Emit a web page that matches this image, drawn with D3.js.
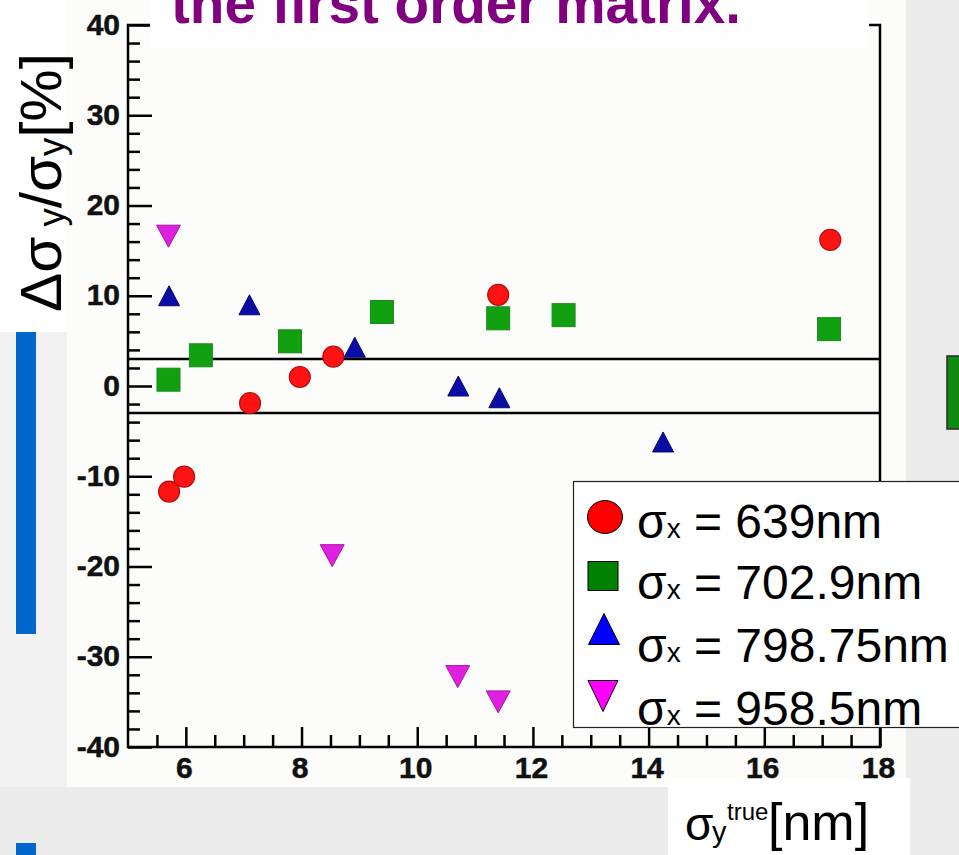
<!DOCTYPE html>
<html><head><meta charset="utf-8">
<script src="https://cdn.jsdelivr.net/npm/d3@7"></script>
<style>html,body{margin:0;padding:0;background:#ececec;overflow:hidden}</style>
</head><body>
<svg id="c" width="959" height="855"></svg>
<script>
// ---------- data ----------
const xTicks = [6, 8, 10, 12, 14, 16, 18];
const yTicks = [-40, -30, -20, -10, 0, 10, 20, 30, 40];
const bandLimits = [-3, 3];
const s639x = [5.71, 5.97, 7.11, 7.97, 8.55, 11.40, 17.14];
const s639y = [-11.7, -10.05, -1.9, 1.0, 3.25, 10.1, 16.2];
const s703x = [5.70, 6.26, 7.80, 9.39, 11.40, 12.53, 17.12];
const s703y = [0.7, 3.4, 4.95, 8.2, 7.5, 7.85, 6.3];
const s799x = [5.71, 7.10, 8.92, 10.71, 11.42, 14.25];
const s799y = [10.0, 9.0, 4.3, 0.0, -1.3, -6.2];
const s959x = [5.70, 8.53, 10.70, 11.40];
const s959y = [16.6, -18.8, -32.2, -35.0];
const seriesLabels = ["639nm", "702.9nm", "798.75nm", "958.5nm"];
const titleText = "the first order matrix.";

// ---------- layout ----------
const FONT = "'Liberation Sans', Arial, Helvetica, sans-serif";
const svg = d3.select("#c");
const x = d3.scaleLinear().domain([5, 18]).range([128, 880]);
const y = d3.scaleLinear().domain([-40, 40]).range([747, 25]);

// background pieces of the slide
svg.append("rect").attr("x", 0).attr("y", 0).attr("width", 959).attr("height", 855).attr("fill", "#ebebeb");
svg.append("rect").attr("x", 0).attr("y", 332).attr("width", 67).attr("height", 455).attr("fill", "#f2f2f2");
svg.append("rect").attr("x", 0).attr("y", 0).attr("width", 67).attr("height", 332).attr("fill", "#ffffff");
svg.append("rect").attr("x", 67).attr("y", 0).attr("width", 839).attr("height", 787).attr("fill", "#fcfcfa");
svg.append("rect").attr("x", 668).attr("y", 778).attr("width", 242).attr("height", 77).attr("fill", "#ffffff");
svg.append("rect").attr("x", 16).attr("y", 332).attr("width", 20).attr("height", 302).attr("fill", "#0066cc");
svg.append("rect").attr("x", 16).attr("y", 843).attr("width", 20).attr("height", 14).attr("fill", "#0066cc");
svg.append("rect").attr("x", 947).attr("y", 356).attr("width", 20).attr("height", 73)
  .attr("fill", "#118a11").attr("stroke", "#2a2a2a").attr("stroke-width", 1.5);

// ---------- frame ----------
const frame = svg.append("g").attr("stroke", "#000").attr("stroke-width", 2.5).attr("fill", "none");
frame.append("rect").attr("x", x(5)).attr("y", y(40)).attr("width", x(18) - x(5)).attr("height", y(-40) - y(40));

// minor ticks
const yMinor = d3.range(-38, 40, 2).filter(v => v % 10 !== 0);
const xMinor = d3.range(5.5, 18, 0.5).filter(v => !xTicks.includes(v));
const gyMin = svg.append("g").attr("transform", `translate(${x(5)},0)`)
  .call(d3.axisLeft(y).tickValues(yMinor).tickSize(-12).tickFormat(""));
gyMin.select(".domain").remove();
gyMin.selectAll("line").attr("stroke", "#000").attr("stroke-width", 2.5);
const gxMin = svg.append("g").attr("transform", `translate(0,${y(-40)})`)
  .call(d3.axisBottom(x).tickValues(xMinor).tickSize(-12).tickFormat(""));
gxMin.select(".domain").remove();
gxMin.selectAll("line").attr("stroke", "#000").attr("stroke-width", 2.5);

// major ticks + labels
const gy = svg.append("g").attr("transform", `translate(${x(5)},0)`)
  .call(d3.axisLeft(y).tickValues(yTicks).tickSize(-24).tickPadding(8).tickFormat(d => String(d)));
gy.select(".domain").remove();
gy.attr("font-size", 30).attr("font-family", FONT).attr("font-weight", "bold");
gy.selectAll("line").attr("stroke", "#000").attr("stroke-width", 2.5);
gy.selectAll("text").attr("fill", "#111").attr("stroke", "#111").attr("stroke-width", 0.5).attr("dy", "0.3em");

const gx = svg.append("g").attr("transform", `translate(0,${y(-40)})`)
  .call(d3.axisBottom(x).tickValues(xTicks).tickSize(-20).tickPadding(10).tickFormat(d => String(d)));
gx.select(".domain").remove();
gx.attr("font-size", 30).attr("font-family", FONT).attr("font-weight", "bold");
gx.selectAll("line").attr("stroke", "#000").attr("stroke-width", 2.5);
gx.selectAll("text").attr("fill", "#111").attr("stroke", "#111").attr("stroke-width", 0.5).attr("dx", -2);

// band lines at +-3 %
svg.append("g").selectAll("line").data(bandLimits).join("line")
  .attr("x1", x(5)).attr("x2", x(18)).attr("y1", d => y(d)).attr("y2", d => y(d))
  .attr("stroke", "#000").attr("stroke-width", 2.5);

// ---------- markers ----------
const zip = (xs, ys) => xs.map((v, i) => ({x: v, y: ys[i]}));
const upTri = (w, h) => `M0,${-h/2}L${w/2},${h/2}L${-w/2},${h/2}Z`;
const downTri = (w, h) => `M${-w/2},${-h/2}L${w/2},${-h/2}L0,${h/2}Z`;

svg.append("g").selectAll("circle").data(zip(s639x, s639y)).join("circle")
  .attr("cx", d => x(d.x)).attr("cy", d => y(d.y)).attr("r", 10.5)
  .attr("fill", "#ff1212").attr("stroke", "#b01010").attr("stroke-width", 1.2);
svg.append("g").selectAll("rect").data(zip(s703x, s703y)).join("rect")
  .attr("x", d => x(d.x) - 11.5).attr("y", d => y(d.y) - 11.5).attr("width", 23).attr("height", 23)
  .attr("fill", "#10a010").attr("stroke", "#1a8a1a").attr("stroke-width", 1);
svg.append("g").selectAll("path").data(zip(s799x, s799y)).join("path")
  .attr("transform", d => `translate(${x(d.x)},${y(d.y)})`).attr("d", upTri(21, 20))
  .attr("fill", "#0c0ca6").attr("stroke", "#08086a").attr("stroke-width", 1);
svg.append("g").selectAll("path").data(zip(s959x, s959y)).join("path")
  .attr("transform", d => `translate(${x(d.x)},${y(d.y)})`).attr("d", downTri(24, 22))
  .attr("fill", "#e020e0").attr("stroke", "#a818a8").attr("stroke-width", 1);

// ---------- title (partly cut at top) ----------
svg.append("rect").attr("x", 150).attr("y", 0).attr("width", 719).attr("height", 48).attr("fill", "#fefefe");
svg.append("text").attr("x", 171).attr("y", 23).attr("font-family", FONT).attr("font-weight", "bold")
  .attr("font-size", 58).attr("fill", "#800080").attr("textLength", 570).attr("lengthAdjust", "spacingAndGlyphs")
  .text(titleText);

// ---------- axis titles ----------
const yl = svg.append("text").attr("transform", "translate(61,312) rotate(-90)")
  .attr("font-family", FONT).attr("font-size", 58).attr("fill", "#000")
  .attr("textLength", 259).attr("lengthAdjust", "spacingAndGlyphs");
yl.append("tspan").text("Δσ");
yl.append("tspan").attr("font-size", 36).attr("dy", 3).text(" y");
yl.append("tspan").attr("dy", -3).text("/σ");
yl.append("tspan").attr("font-size", 36).attr("dy", 3).text("y");
yl.append("tspan").attr("dy", -3).text("[%]");

const xl = svg.append("text").attr("font-family", FONT).attr("fill", "#000");
xl.append("tspan").attr("x", 685).attr("y", 840).attr("font-size", 46).text("σ");
xl.append("tspan").attr("x", 712).attr("y", 842).attr("font-size", 29).text("y");
xl.append("tspan").attr("x", 727).attr("y", 820).attr("font-size", 24).text("true");
xl.append("tspan").attr("x", 768).attr("y", 840).attr("font-size", 52).text("[nm]");

// ---------- legend ----------
const lg = svg.append("g");
lg.append("rect").attr("x", 573.5).attr("y", 481.5).attr("width", 420).attr("height", 246)
  .attr("fill", "#ffffff").attr("stroke", "#222").attr("stroke-width", 1.2);
const legBase = [538, 599, 662, 725];
const legSym = [517, 576, 629, 696];
lg.append("ellipse").attr("cx", 605).attr("cy", legSym[0]).attr("rx", 17.5).attr("ry", 16.5)
  .attr("fill", "#ff0000").attr("stroke", "#000").attr("stroke-width", 1);
lg.append("rect").attr("x", 588).attr("y", legSym[1] - 14.5).attr("width", 30).attr("height", 29)
  .attr("fill", "#008000").attr("stroke", "#000").attr("stroke-width", 1);
lg.append("path").attr("transform", `translate(604,${legSym[2]})`).attr("d", upTri(31, 31))
  .attr("fill", "#0000ff").attr("stroke", "#000").attr("stroke-width", 1);
lg.append("path").attr("transform", `translate(603,${legSym[3]})`).attr("d", downTri(30, 31))
  .attr("fill", "#ff00ff").attr("stroke", "#000").attr("stroke-width", 1);
seriesLabels.forEach((lab, i) => {
  const t = lg.append("text").attr("x", 637).attr("y", legBase[i]).attr("font-family", FONT).attr("fill", "#000");
  t.append("tspan").attr("font-size", 48).text("σ");
  t.append("tspan").attr("font-size", 28).text("x");
  t.append("tspan").attr("font-size", 48).text(" = " + lab);
});
</script>
</body></html>
